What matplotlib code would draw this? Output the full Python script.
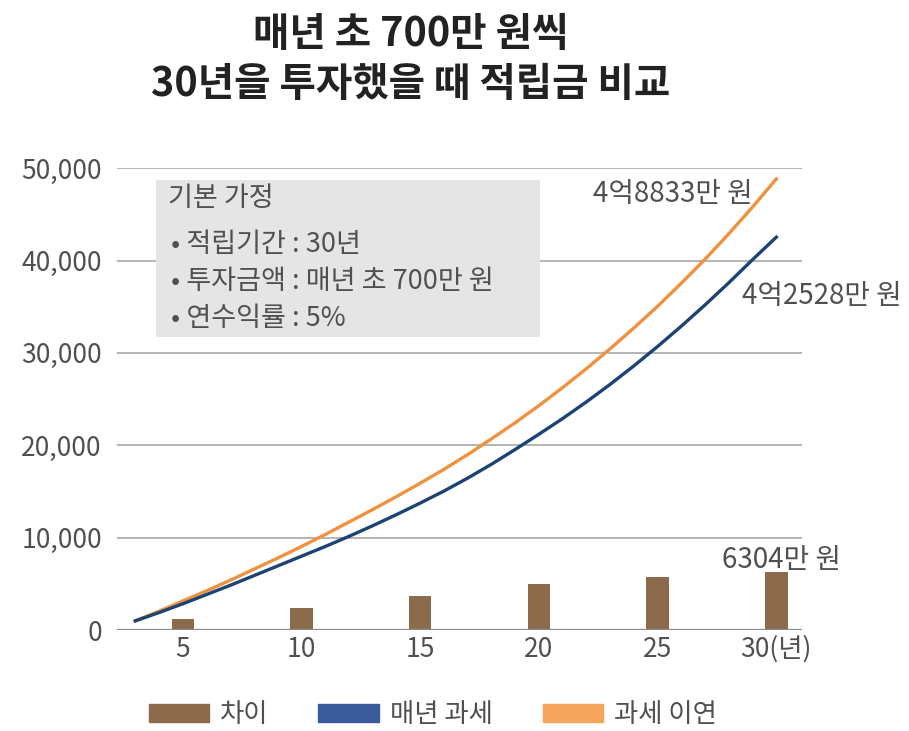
import matplotlib
matplotlib.use("Agg")
import matplotlib.pyplot as plt
from matplotlib.patches import Rectangle, Patch

plt.rcParams['font.family'] = ['Noto Sans CJK KR', 'DejaVu Sans']

# data (unit: 만 원)
line_years = list(range(3, 31))
deferred = [1000, 2050, 3150, 4250, 5400, 6600, 7800, 9050, 10350, 11700,
            13050, 14450, 15900, 17400, 19000, 20700, 22450, 24300, 26250, 28300,
            30450, 32700, 35050, 37550, 40150, 42900, 45800, 48833]
yearly_tax = [1000, 1900, 2850, 3850, 4850, 5900, 6950, 8000, 9050, 10150,
              11300, 12500, 13750, 15050, 16450, 17950, 19550, 21200, 22900, 24700,
              26600, 28600, 30700, 32900, 35200, 37600, 40100, 42528]
bar_years = [5, 10, 15, 20, 25, 30]
diff = [1200, 2400, 3650, 4950, 5700, 6304]

x_labels = ["5", "10", "15", "20", "25", "30(년)"]
y_ticks = [0, 10000, 20000, 30000, 40000, 50000]
y_labels = ["0", "10,000", "20,000", "30,000", "40,000", "50,000"]

c_bar = "#8C6B4D"
c_blue = "#1D4274"
c_orange = "#F0913E"
c_text = "#505050"

fig = plt.figure(figsize=(9.09, 7.31), dpi=100)
ax = fig.add_axes([0.129, 0.138, 0.753, 0.632])

for v in y_ticks[1:]:
    ax.axhline(v, color="#a8a8a8", lw=1.2, zorder=0)
ax.axhline(0, color="#8a8a8a", lw=1.6, zorder=3)

ax.bar(bar_years, diff, width=0.95, color=c_bar, zorder=2)
ax.plot(line_years, deferred, color=c_orange, lw=2.4, zorder=4)
ax.plot(line_years, yearly_tax, color=c_blue, lw=2.4, zorder=5)

ax.set_xlim(2.24, 31.07)
ax.set_ylim(0, 50000)
ax.set_xticks(bar_years)
ax.set_xticklabels(x_labels)
ax.set_yticks(y_ticks)
ax.set_yticklabels(y_labels)
ax.tick_params(length=0, labelsize=19, labelcolor=c_text)
ax.tick_params(axis="y", pad=11)
ax.tick_params(axis="x", pad=4)
for s in ax.spines.values():
    s.set_visible(False)

# assumption box
ax.add_patch(Rectangle((0.057, 0.635), 0.56, 0.34, transform=ax.transAxes,
                       facecolor="#e5e5e5", edgecolor="none", zorder=6))
ax.text(0.074, 0.935, "기본 가정", transform=ax.transAxes, fontsize=19.5,
        color=c_text, va="center", zorder=7)
box_lines = ["• 적립기간 : 30년", "• 투자금액 : 매년 초 700만 원", "• 연수익률 : 5%"]
for i, t in enumerate(box_lines):
    ax.text(0.078, 0.835 - i * 0.08, t, transform=ax.transAxes, fontsize=19.5,
            color=c_text, va="center", zorder=7)

# value labels
ax.text(29.0, 47200, "4억8833만 원", fontsize=20, color=c_text, ha="right", va="center")
ax.text(28.55, 36150, "4억2528만 원", fontsize=20, color=c_text, ha="left", va="center")
ax.text(30.2, 7570, "6304만 원", fontsize=20, color=c_text, ha="center", va="center")

fig.text(0.452, 0.953, "매년 초 700만 원씩", fontsize=28.5, fontweight="bold",
         ha="center", va="center", color="#222222")
fig.text(0.452, 0.884, "30년을 투자했을 때 적립금 비교", fontsize=28.5, fontweight="bold",
         ha="center", va="center", color="#222222")

handles = [Patch(color=c_bar), Patch(color="#3A5C9C"), Patch(color="#F5A45C")]
fig.legend(handles, ["차이", "매년 과세", "과세 이연"], loc="center",
           bbox_to_anchor=(0.476, 0.022), ncol=3, frameon=False, fontsize=19,
           handlelength=2.3, handleheight=0.65, columnspacing=1.9, handletextpad=0.4,
           labelcolor=c_text)

fig.savefig("out.png", dpi=100)
